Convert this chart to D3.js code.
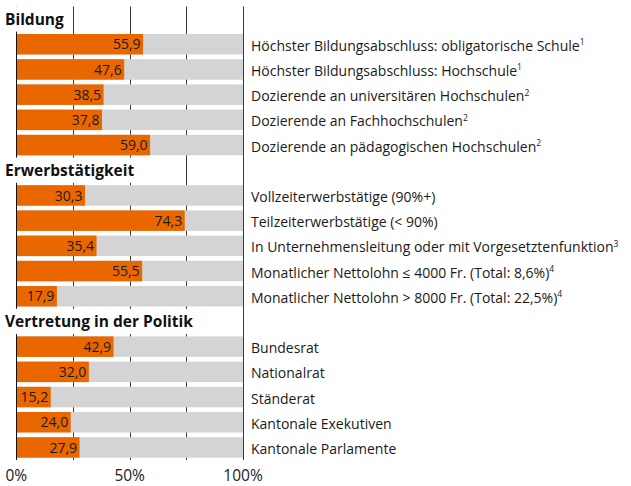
<!DOCTYPE html>
<html>
<head>
<meta charset="utf-8">
<script src="https://cdn.jsdelivr.net/npm/d3@7"></script>
<style>
  html, body { margin: 0; padding: 0; background: #fff; }
  svg { display: block; font-family: "Open Sans", "DejaVu Sans", sans-serif; }
</style>
</head>
<body>
<svg id="chart" width="631" height="486"></svg>
<script>
// Frauenanteil in Prozent, nach Bereich
const groups = ["Bildung", "Erwerbstätigkeit", "Vertretung in der Politik"];

const bildungLabels = [
  "Höchster Bildungsabschluss: obligatorische Schule",
  "Höchster Bildungsabschluss: Hochschule",
  "Dozierende an universitären Hochschulen",
  "Dozierende an Fachhochschulen",
  "Dozierende an pädagogischen Hochschulen"
];
const bildungNotes = ["1", "1", "2", "2", "2"];
const bildungValues = [55.9, 47.6, 38.5, 37.8, 59.0];

const erwerbLabels = [
  "Vollzeiterwerbstätige (90%+)",
  "Teilzeiterwerbstätige (< 90%)",
  "In Unternehmensleitung oder mit Vorgesetztenfunktion",
  "Monatlicher Nettolohn ≤ 4000 Fr. (Total: 8,6%)",
  "Monatlicher Nettolohn > 8000 Fr. (Total: 22,5%)"
];
const erwerbNotes = ["", "", "3", "4", "4"];
const erwerbValues = [30.3, 74.3, 35.4, 55.5, 17.9];

const politikLabels = [
  "Bundesrat",
  "Nationalrat",
  "Ständerat",
  "Kantonale Exekutiven",
  "Kantonale Parlamente"
];
const politikNotes = ["", "", "", "", ""];
const politikValues = [42.9, 32.0, 15.2, 24.0, 27.9];

const tickValues = [0, 50, 100];
const gridValues = [25, 50, 75, 100];

// Build one row per slot: a group heading followed by its bars
const sections = [
  [bildungLabels, bildungNotes, bildungValues],
  [erwerbLabels, erwerbNotes, erwerbValues],
  [politikLabels, politikNotes, politikValues]
];
const rows = [];
sections.forEach(([labels, notes, values], g) => {
  rows.push({ key: "h" + g, heading: groups[g] });
  labels.forEach((lab, i) => {
    rows.push({ key: "r" + g + "_" + i, label: lab, note: notes[i], value: values[i] });
  });
});

const svg = d3.select("#chart");
const fmt = v => d3.format(".1f")(v).replace(".", ",");

const x = d3.scaleLinear().domain([0, 100]).range([16.3, 243]);
const y = d3.scaleBand()
  .domain(rows.map(r => r.key))
  .range([6.45, 460.05])
  .paddingInner(0.187)
  .paddingOuter(0.0935);

const step = y.step();
const padHalf = (step - y.bandwidth()) / 2;
const yTop = y.range()[0], yBottom = y.range()[1];

const ORANGE = "#EA6700";
const GREY = "#D4D4D4";
const INK = "#1a1a1a";

// Grid lines (behind everything)
const grid = svg.append("g");
grid.selectAll("line.grid")
  .data([0].concat(gridValues))
  .join("line")
  .attr("x1", d => Math.round(x(d)) + 0.5)
  .attr("x2", d => Math.round(x(d)) + 0.5)
  .attr("y1", yTop)
  .attr("y2", yBottom)
  .attr("stroke", d => d === 0 ? "#111" : "#3a3a3a")
  .attr("stroke-width", 1);

const barRows = rows.filter(r => r.heading === undefined);
const headRows = rows.filter(r => r.heading !== undefined);

// Full-width grey backgrounds
svg.append("g").selectAll("rect")
  .data(barRows)
  .join("rect")
  .attr("x", Math.round(x(0)) + 1)
  .attr("y", d => y(d.key))
  .attr("width", Math.round(x(100)) - Math.round(x(0)) - 1)
  .attr("height", y.bandwidth())
  .attr("fill", GREY);

// Value bars
svg.append("g").selectAll("rect")
  .data(barRows)
  .join("rect")
  .attr("x", Math.round(x(0)) + 1)
  .attr("y", d => y(d.key))
  .attr("width", d => x(d.value) - Math.round(x(0)) - 1)
  .attr("height", y.bandwidth())
  .attr("fill", ORANGE);

// Value labels inside bars
svg.append("g").selectAll("text")
  .data(barRows)
  .join("text")
  .attr("x", d => x(d.value) - 2.5)
  .attr("y", d => y(d.key) + y.bandwidth() / 2 + 5.2)
  .attr("text-anchor", "end")
  .attr("font-size", 14)
  .attr("fill", INK)
  .text(d => fmt(d.value));

// Category labels with footnote markers
const lab = svg.append("g").selectAll("text")
  .data(barRows)
  .join("text")
  .attr("x", 251)
  .attr("y", d => y(d.key) + y.bandwidth() / 2 + 6.5)
  .attr("font-size", 14)
  .attr("fill", INK);
lab.append("tspan").text(d => d.label);
lab.filter(d => d.note)
  .append("tspan")
  .attr("font-size", 8.5)
  .attr("dy", -5.5)
  .text(d => d.note);

// Group headings on white boxes that mask the grid
const heads = svg.append("g").selectAll("g")
  .data(headRows)
  .join("g");
const headText = heads.append("text")
  .attr("x", 5)
  .attr("y", d => y(d.key) + y.bandwidth() / 2 + 6)
  .attr("font-size", 15.5)
  .attr("font-weight", "bold")
  .attr("fill", "#111")
  .text(d => d.heading);
heads.insert("rect", "text")
  .attr("x", 0)
  .attr("y", d => y(d.key) - padHalf)
  .attr("width", function() {
    const t = d3.select(this.parentNode).select("text").node();
    return 5 + t.getComputedTextLength() + 3;
  })
  .attr("height", step)
  .attr("fill", "#fff");

// Percentage axis
svg.append("g").selectAll("text")
  .data(tickValues)
  .join("text")
  .attr("x", d => x(d))
  .attr("y", 481.3)
  .attr("text-anchor", "middle")
  .attr("font-size", 15.5)
  .attr("fill", INK)
  .text(d => d + "%");
</script>
</body>
</html>
